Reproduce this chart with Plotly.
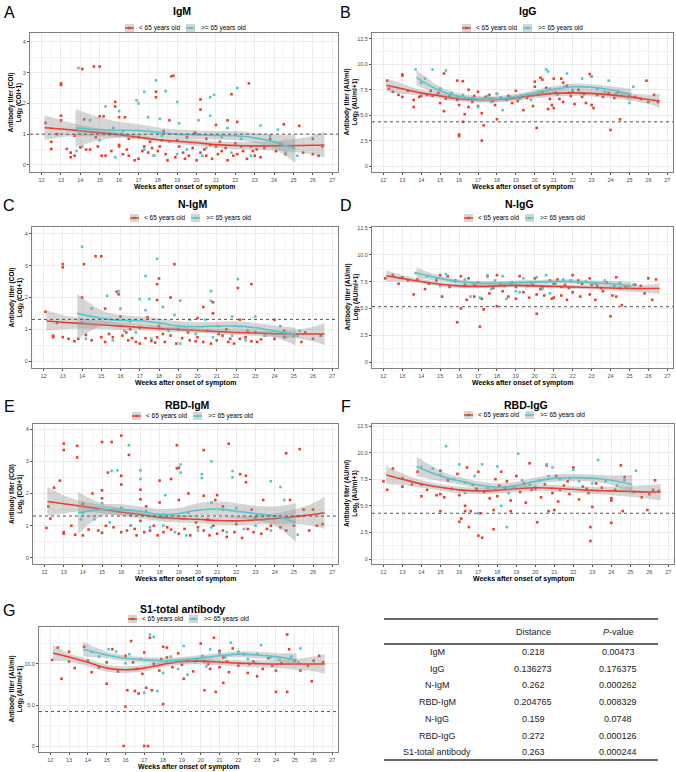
import plotly.graph_objects as go

W, H = 676, 772
FONT = "Arial, 'Liberation Sans', sans-serif"
RED = "#E8402E"
CYAN = "#55C6CC"
BAND_FILL = "rgba(153,153,153,0.40)"
KEY_FILL = "#D6D6D6"

GROUPS = ["< 65 years old", ">= 65 years old"]
WEEKS = list(range(12, 28))
X_TITLE = "Weeks after onset of symptom"

RED_X = [12.15, 13, 14, 15, 16, 17, 18, 19, 20, 21, 22, 23, 24, 25, 26, 26.6]
CYAN_X = [13.75, 15, 16, 17, 18, 19, 20, 21, 22, 23, 24, 25.1]

# ---------------- IgM ----------------
IGM_LT65 = [(13.0, 2.65), (13.0, 2.6), (14.1, 3.12), (14.7, 3.2), (15.0, 3.2), (13.0, 1.6), (13.0, 1.45),
            (18.7, 2.88), (18.8, 2.9), (17.9, 2.38), (17.9, 2.2), (22.7, 2.65), (20.2, 2.13), (20.2, 1.8),
            (21.8, 2.3), (15.8, 2.05), (15.8, 1.9), (16.0, 1.55), (16.3, 1.55), (15.0, 1.58), (15.2, 1.58),
            (14.2, 1.48), (22.1, 1.4), (21.6, 1.45), (18.6, 1.45), (24.5, 1.32), (25.3, 1.27), (12.2, 1.37),
            (12.5, 0.75), (12.5, 0.52), (13.3, 0.52), (13.5, 0.4), (13.5, 0.25), (13.7, 0.3), (14.0, 0.57),
            (14.3, 0.5), (14.5, 0.5), (15.1, 0.3), (15.3, 0.3), (16.0, 0.65), (16.0, 0.6), (16.4, 0.5),
            (16.8, 0.15), (17.2, 0.45), (17.5, 0.4), (17.8, 0.3), (18.0, 0.45), (18.5, 0.15), (18.9, 0.25),
            (19.3, 0.4), (19.8, 0.55), (20.2, 0.4), (20.5, 0.3), (20.8, 0.2), (21.0, 0.6), (21.3, 0.45),
            (21.6, 0.15), (21.9, 0.3), (22.1, 0.35), (22.4, 0.45), (22.6, 0.2), (23.0, 0.3), (23.1, 0.5),
            (23.5, 0.55), (24.1, 0.45), (24.6, 0.35), (25.0, 0.6), (25.5, 0.4), (26.0, 0.35), (26.3, 0.3),
            (26.5, 0.6), (26.0, 0.85), (16.5, 0.85), (17.0, 0.9), (17.6, 0.75), (18.2, 0.8), (19.0, 0.8),
            (19.5, 0.9), (20.0, 1.0), (20.5, 0.85), (21.2, 0.75), (22.0, 0.7), (22.8, 0.6), (23.8, 0.85),
            (24.3, 0.7), (15.5, 1.0), (14.8, 0.9), (13.7, 0.95), (12.8, 1.0), (18.3, 1.1), (19.9, 1.05),
            (21.0, 1.3), (20.0, 0.15), (17.0, 0.2), (16.5, 0.3), (17.3, 0.6), (19.1, 0.6), (20.7, 0.65),
            (16.2, 0.35), (17.7, 0.55), (18.4, 0.35), (19.6, 0.3), (20.4, 0.5), (21.5, 0.55), (22.3, 0.6),
            (22.9, 0.45), (23.3, 0.25), (15.6, 0.45), (14.9, 0.6), (18.1, 0.6), (19.4, 0.2), (21.1, 0.35)]
IGM_GE65 = [(13.9, 3.15), (17.9, 2.75), (18.4, 2.4), (17.3, 2.38), (17.0, 2.0), (16.9, 2.1), (22.1, 2.5),
            (20.9, 2.28), (20.7, 2.2), (19.0, 2.05), (15.3, 1.9), (16.0, 1.75), (17.5, 1.55), (18.1, 1.5),
            (19.1, 1.35), (20.1, 1.45), (20.7, 1.6), (21.6, 1.2), (23.3, 1.28), (24.2, 1.15), (14.5, 1.45),
            (15.0, 0.8), (15.7, 1.2), (16.2, 1.1), (16.7, 0.9), (17.3, 0.5), (17.8, 0.3), (18.6, 0.75),
            (19.0, 0.35), (19.5, 0.5), (20.3, 0.3), (21.3, 0.9), (21.8, 0.4), (22.3, 0.85), (22.8, 0.3),
            (23.8, 0.95), (24.6, 0.4), (25.2, 0.3), (14.1, 0.6), (13.8, 0.45), (15.8, 0.25), (18.2, 0.95),
            (20.5, 0.55)]
IGM_FIT_LT65 = [1.21, 1.17, 1.11, 1.05, 0.98, 0.90, 0.82, 0.77, 0.72, 0.66, 0.63, 0.62, 0.62, 0.63, 0.64, 0.65]
IGM_HI_LT65 = [1.62, 1.45, 1.30, 1.17, 1.06, 0.97, 0.90, 0.86, 0.82, 0.77, 0.75, 0.75, 0.78, 0.84, 0.95, 1.08]
IGM_LO_LT65 = [0.81, 0.90, 0.93, 0.93, 0.90, 0.83, 0.75, 0.68, 0.62, 0.55, 0.51, 0.49, 0.46, 0.42, 0.34, 0.24]
IGM_FIT_GE65 = [1.20, 1.15, 1.13, 1.12, 1.06, 1.00, 0.98, 0.96, 0.95, 0.88, 0.75, 0.52]
IGM_HI_GE65 = [1.82, 1.55, 1.40, 1.32, 1.22, 1.15, 1.12, 1.10, 1.10, 1.05, 0.98, 0.97]
IGM_LO_GE65 = [0.58, 0.80, 0.88, 0.93, 0.90, 0.85, 0.84, 0.82, 0.80, 0.71, 0.52, 0.07]
IGM_CUTOFF = 1.0

# ---------------- IgG ----------------
IGG_LT65 = [(16.0, 3.1), (16.0, 2.95), (17.2, 2.5), (17.3, 4.0), (20.1, 3.75), (24.0, 3.55), (24.5, 4.6),
            (16.2, 4.35), (18.0, 4.6), (16.3, 5.1), (12.2, 8.4), (13.0, 9.0), (13.0, 8.9), (15.2, 9.1),
            (15.9, 8.4), (16.2, 8.35), (20.3, 8.7), (20.4, 8.5), (20.0, 8.3), (21.0, 8.6), (21.4, 8.6),
            (22.9, 9.05), (23.0, 8.8), (25.9, 8.4), (12.5, 7.3), (12.8, 7.0), (13.0, 6.8), (13.3, 7.4),
            (13.6, 6.5), (13.6, 5.8), (13.9, 6.8), (14.3, 7.0), (14.6, 6.9), (15.0, 6.2), (15.2, 5.4),
            (15.5, 6.9), (15.9, 6.5), (16.0, 6.0), (16.5, 5.8), (16.7, 6.3), (17.0, 5.9), (17.2, 5.2),
            (17.4, 6.8), (17.6, 7.0), (17.8, 6.4), (17.9, 6.0), (18.2, 6.7), (18.5, 6.5), (18.8, 6.2),
            (19.1, 6.4), (19.4, 5.5), (19.6, 6.7), (19.9, 5.9), (20.0, 7.8), (20.2, 7.0), (20.4, 7.3),
            (20.7, 5.6), (20.9, 6.0), (21.0, 5.7), (21.1, 7.2), (21.3, 6.6), (21.5, 6.3), (21.7, 7.9),
            (21.9, 6.9), (22.1, 6.1), (22.3, 7.5), (22.5, 6.8), (22.7, 6.2), (23.0, 6.0), (23.1, 5.7),
            (23.3, 7.0), (23.6, 6.8), (23.9, 7.2), (24.2, 6.7), (24.6, 6.9), (25.0, 7.0), (25.3, 6.8),
            (25.6, 6.6), (26.0, 6.3), (26.3, 7.0), (26.5, 6.3), (18.0, 7.1), (17.0, 7.3), (19.0, 7.4),
            (14.0, 6.9), (16.5, 7.5), (21.5, 8.2), (12.3, 7.6), (14.9, 7.2), (20.6, 7.7), (22.0, 7.3),
            (16.8, 6.9), (17.7, 6.6), (18.6, 6.9), (19.3, 6.9), (20.8, 6.6), (21.8, 7.2), (22.6, 7.1),
            (24.4, 7.3), (15.3, 6.6), (14.5, 7.4)]
IGG_GE65 = [(13.7, 9.5), (14.6, 9.5), (15.3, 9.4), (14.2, 8.6), (20.6, 9.5), (20.7, 9.3), (21.7, 9.1),
            (22.5, 8.6), (23.0, 8.8), (23.9, 8.4), (25.2, 7.8), (14.0, 8.2), (15.0, 7.6), (15.6, 7.2),
            (16.2, 7.0), (16.7, 6.7), (17.0, 5.8), (17.3, 6.6), (17.7, 6.3), (18.0, 7.1), (18.3, 5.5),
            (18.7, 6.8), (19.2, 6.6), (19.6, 7.0), (20.2, 7.3), (20.8, 7.6), (21.2, 7.0), (21.6, 7.8),
            (22.0, 7.5), (22.4, 7.2), (23.3, 7.6), (23.7, 7.3), (24.3, 7.1), (24.6, 6.9), (25.0, 6.2),
            (15.9, 6.8), (17.5, 6.9), (19.8, 6.5)]
IGG_FIT_LT65 = [7.95, 7.6, 7.2, 6.9, 6.6, 6.55, 6.55, 6.7, 6.95, 7.15, 7.2, 7.15, 7.0, 6.8, 6.55, 6.4]
IGG_HI_LT65 = [8.6, 8.1, 7.5, 7.15, 6.85, 6.8, 6.8, 6.95, 7.25, 7.45, 7.5, 7.45, 7.3, 7.15, 7.0, 7.1]
IGG_LO_LT65 = [7.3, 7.1, 6.9, 6.65, 6.35, 6.3, 6.3, 6.45, 6.65, 6.85, 6.9, 6.85, 6.7, 6.45, 6.1, 5.7]
IGG_FIT_GE65 = [8.7, 7.4, 6.85, 6.6, 6.6, 6.8, 7.2, 7.55, 7.8, 7.75, 7.5, 7.05]
IGG_HI_GE65 = [9.45, 7.8, 7.15, 6.9, 6.9, 7.1, 7.5, 7.85, 8.1, 8.05, 7.85, 7.6]
IGG_LO_GE65 = [7.95, 7.0, 6.55, 6.3, 6.3, 6.5, 6.9, 7.25, 7.5, 7.4, 7.15, 6.45]
IGG_CUTOFF = 4.35

# ---------------- N-IgM ----------------
NIGM_LT65 = [(13.0, 3.05), (13.0, 2.95), (14.1, 3.05), (14.7, 3.3), (15.0, 3.3), (18.8, 3.05), (17.9, 2.42),
             (18.0, 2.6), (22.1, 2.3), (22.8, 2.42), (15.8, 2.18), (15.9, 2.1), (14.0, 2.0), (18.6, 2.0),
             (17.9, 1.92), (20.3, 1.7), (20.8, 1.85), (15.2, 1.65), (12.1, 1.55), (16.0, 1.4), (17.4, 1.38),
             (20.0, 1.35), (20.8, 1.5), (22.2, 1.3), (24.0, 1.3), (25.6, 0.9), (12.5, 0.75), (12.5, 0.8),
             (13.0, 0.75), (13.3, 0.7), (13.6, 0.62), (13.8, 0.7), (14.2, 0.82), (14.5, 0.65), (15.0, 0.75),
             (15.2, 0.6), (15.6, 0.75), (16.1, 0.8), (16.4, 0.65), (16.8, 0.6), (17.0, 0.55), (17.3, 0.72),
             (17.6, 0.63), (17.9, 0.75), (18.3, 0.6), (18.6, 0.8), (18.9, 0.55), (19.2, 0.72), (19.6, 0.65),
             (20.0, 0.75), (20.3, 0.6), (20.7, 0.55), (21.0, 0.65), (21.3, 0.8), (21.6, 0.6), (21.9, 0.55),
             (22.2, 0.7), (22.5, 0.75), (22.8, 0.62), (23.1, 0.6), (23.5, 0.8), (24.0, 0.7), (24.5, 0.75),
             (25.0, 0.8), (25.4, 0.6), (26.0, 0.7), (26.4, 0.8), (16.5, 1.0), (17.0, 1.05), (18.0, 1.1),
             (19.0, 1.0), (20.5, 0.95), (21.5, 1.0), (23.0, 0.9), (14.0, 1.2), (12.7, 1.2), (19.5, 0.9),
             (24.5, 0.95), (16.3, 0.9), (18.2, 0.85), (21.1, 0.85), (22.6, 0.95), (16.6, 0.72),
             (17.8, 0.58), (19.9, 0.62), (21.7, 0.7), (23.3, 0.68), (15.4, 0.85)]
NIGM_GE65 = [(14.0, 3.6), (17.9, 3.22), (17.3, 2.68), (22.1, 2.58), (20.7, 2.2), (15.9, 2.2), (17.0, 1.95),
             (17.5, 1.95), (18.2, 1.7), (19.1, 1.9), (20.7, 1.9), (21.8, 1.4), (16.0, 1.65), (14.5, 1.65),
             (15.3, 2.05), (17.3, 1.6), (15.8, 1.3), (16.5, 1.25), (18.8, 1.45), (19.6, 1.3), (20.4, 1.3),
             (21.1, 1.1), (23.0, 1.4), (24.3, 1.1), (25.3, 0.95), (25.2, 0.8), (14.2, 0.7), (15.6, 0.65),
             (16.8, 0.9), (17.6, 0.7), (18.5, 0.95), (19.1, 0.55), (19.9, 0.85), (20.8, 0.75), (21.8, 0.8),
             (22.5, 0.65), (23.5, 0.8), (24.6, 0.75), (16.2, 0.95)]
NIGM_FIT_LT65 = [1.26, 1.22, 1.18, 1.14, 1.10, 1.06, 1.02, 0.99, 0.96, 0.93, 0.90, 0.88, 0.86, 0.85, 0.85, 0.85]
NIGM_HI_LT65 = [1.60, 1.45, 1.35, 1.28, 1.20, 1.15, 1.10, 1.06, 1.03, 1.00, 0.98, 0.96, 0.95, 0.97, 1.08, 1.20]
NIGM_LO_LT65 = [0.95, 1.00, 1.02, 1.00, 0.98, 0.96, 0.94, 0.91, 0.88, 0.85, 0.82, 0.79, 0.76, 0.72, 0.62, 0.50]
NIGM_FIT_GE65 = [1.50, 1.35, 1.28, 1.27, 1.20, 1.10, 1.08, 1.10, 1.10, 1.05, 0.95, 0.83]
NIGM_HI_GE65 = [2.12, 1.60, 1.45, 1.40, 1.35, 1.25, 1.22, 1.24, 1.25, 1.20, 1.12, 1.05]
NIGM_LO_GE65 = [0.68, 1.10, 1.12, 1.12, 1.05, 0.95, 0.94, 0.96, 0.95, 0.88, 0.75, 0.50]
NIGM_CUTOFF = 1.31

# ---------------- N-IgG ----------------
NIGG_LT65 = [(15.9, 3.7), (17.1, 3.3), (20.1, 4.5), (24.0, 4.25), (16.1, 5.0), (17.3, 4.9), (18.0, 5.2),
             (24.6, 5.3), (13.6, 6.3), (14.2, 6.8), (15.1, 6.1), (16.4, 5.8), (16.8, 6.1), (17.2, 5.9),
             (17.6, 6.4), (18.3, 6.6), (18.6, 6.1), (19.0, 5.9), (19.4, 6.5), (19.7, 6.0), (20.1, 6.3),
             (20.5, 6.2), (20.9, 5.9), (21.0, 6.0), (21.4, 6.2), (21.7, 5.8), (22.0, 6.5), (22.4, 6.1),
             (22.9, 6.3), (23.2, 5.8), (23.6, 6.6), (24.1, 6.2), (24.3, 6.1), (25.8, 6.4), (26.2, 5.8),
             (12.1, 7.8), (12.5, 8.1), (13.0, 7.9), (13.3, 7.6), (13.8, 7.7), (14.4, 7.3), (14.8, 7.6),
             (15.0, 8.1), (15.4, 8.0), (15.8, 7.6), (16.1, 8.0), (16.5, 7.8), (17.0, 7.4), (17.5, 8.0),
             (18.0, 8.1), (18.4, 7.1), (18.8, 7.4), (19.2, 8.0), (19.6, 7.1), (20.0, 7.8), (20.4, 7.0),
             (20.8, 7.6), (21.2, 7.7), (21.6, 7.2), (22.0, 8.1), (22.5, 7.3), (22.9, 7.8), (23.3, 7.1),
             (23.8, 7.4), (24.3, 7.9), (24.8, 7.0), (25.3, 7.2), (25.6, 7.1), (26.0, 7.8), (26.4, 7.7),
             (15.5, 7.0), (17.8, 6.9), (20.3, 6.8), (21.8, 6.9), (23.5, 6.9), (12.8, 7.3), (16.8, 7.2),
             (19.0, 7.0), (21.0, 7.3), (22.3, 7.6), (16.3, 7.2), (18.2, 7.3), (19.9, 7.2), (21.4, 7.0),
             (23.0, 7.2), (24.5, 6.9)]
NIGG_GE65 = [(13.7, 8.3), (14.3, 8.0), (14.8, 7.8), (15.3, 8.2), (15.8, 7.5), (16.3, 7.7), (16.9, 7.1),
             (17.1, 6.0), (17.5, 8.1), (17.9, 7.6), (18.3, 8.0), (18.7, 7.2), (19.0, 6.6), (19.4, 7.8),
             (19.8, 7.4), (20.1, 7.9), (20.6, 8.1), (20.8, 6.4), (21.1, 7.3), (21.5, 7.7), (21.9, 7.6),
             (22.3, 7.4), (22.7, 7.5), (23.2, 7.3), (23.7, 7.6), (24.2, 7.1), (24.5, 7.4), (25.2, 7.2),
             (16.6, 6.1), (17.7, 6.8), (18.5, 5.9), (19.2, 6.5), (20.4, 6.8), (22.0, 7.0), (15.0, 7.1),
             (24.9, 6.9)]
NIGG_FIT_LT65 = [8.05, 7.8, 7.5, 7.25, 7.1, 7.05, 7.1, 7.15, 7.1, 7.05, 7.0, 6.95, 6.9, 6.85, 6.85, 6.85]
NIGG_HI_LT65 = [8.55, 8.1, 7.75, 7.45, 7.3, 7.25, 7.28, 7.32, 7.28, 7.23, 7.2, 7.15, 7.12, 7.1, 7.2, 7.3]
NIGG_LO_LT65 = [7.5, 7.5, 7.3, 7.05, 6.9, 6.9, 6.92, 6.98, 6.92, 6.88, 6.82, 6.75, 6.68, 6.55, 6.45, 6.35]
NIGG_FIT_GE65 = [8.3, 7.8, 7.5, 7.35, 7.35, 7.4, 7.45, 7.5, 7.5, 7.4, 7.3, 7.1]
NIGG_HI_GE65 = [8.8, 8.05, 7.7, 7.55, 7.55, 7.6, 7.65, 7.7, 7.72, 7.62, 7.55, 7.45]
NIGG_LO_GE65 = [7.8, 7.55, 7.3, 7.15, 7.15, 7.2, 7.25, 7.3, 7.3, 7.18, 7.05, 6.75]
NIGG_CUTOFF = 5.16

# ---------------- RBD-IgM ----------------
RBDM_LT65 = [(13.0, 3.55), (13.0, 3.35), (13.7, 3.48), (13.7, 3.12), (15.0, 3.6), (15.5, 3.6), (16.0, 3.8),
             (16.4, 3.2), (18.9, 3.5), (21.6, 3.55), (20.3, 3.35), (24.6, 3.25), (25.3, 3.38), (12.5, 2.18),
             (12.8, 2.4), (15.3, 2.65), (16.0, 2.55), (16.0, 2.28), (18.9, 2.78), (18.0, 2.4), (18.6, 2.45),
             (19.0, 2.8), (22.2, 2.6), (22.5, 2.55), (22.5, 2.35), (17.0, 2.12), (17.0, 1.82), (15.0, 2.1),
             (15.0, 1.85), (14.5, 2.0), (14.0, 1.68), (12.2, 1.6), (12.3, 1.22), (12.1, 0.93), (13.0, 0.8),
             (13.0, 0.75), (13.4, 1.0), (13.6, 0.72), (14.0, 0.7), (14.3, 0.88), (14.8, 0.85), (15.0, 0.78),
             (15.2, 1.0), (15.6, 0.95), (16.0, 0.8), (16.3, 0.85), (16.5, 1.0), (16.8, 0.7), (17.2, 0.8),
             (17.5, 0.85), (17.9, 0.7), (18.2, 0.8), (18.6, 0.88), (19.0, 0.75), (19.3, 0.9), (19.6, 0.7),
             (20.0, 0.95), (20.3, 0.85), (20.6, 0.7), (21.0, 0.75), (21.3, 0.85), (21.5, 0.65), (21.9, 0.8),
             (22.3, 0.62), (22.6, 0.9), (22.9, 0.8), (23.3, 0.75), (23.8, 1.0), (24.3, 0.95), (24.6, 0.85),
             (25.0, 1.0), (25.8, 0.85), (26.2, 1.0), (26.5, 1.05), (19.5, 2.0), (20.3, 1.93), (21.0, 1.95),
             (20.9, 1.8), (19.0, 1.8), (23.4, 1.8), (24.8, 1.8), (22.8, 1.5), (21.3, 1.6), (17.3, 1.6),
             (18.0, 1.72), (16.5, 1.35), (20.5, 1.2), (23.0, 1.25), (25.5, 1.5), (26.0, 1.5), (17.0, 1.15),
             (19.9, 1.1), (16.7, 0.9), (17.7, 1.0), (18.4, 0.95), (20.8, 1.0), (22.0, 1.05), (23.6, 0.9)]
RBDM_GE65 = [(16.4, 3.5), (20.7, 3.0), (19.1, 2.9), (17.0, 2.72), (21.8, 2.7), (21.8, 2.5), (15.8, 2.72),
             (15.5, 2.7), (20.2, 2.6), (20.2, 2.48), (19.1, 2.65), (23.8, 2.38), (24.3, 2.2), (17.0, 2.45),
             (18.3, 1.95), (15.0, 1.7), (16.0, 1.55), (17.3, 1.45), (18.2, 1.35), (19.5, 1.4), (20.7, 1.72),
             (21.3, 1.5), (22.0, 1.55), (23.1, 1.35), (24.5, 1.8), (25.2, 1.3), (14.0, 1.4), (14.6, 1.2),
             (15.4, 1.1), (16.5, 1.0), (17.5, 0.95), (18.2, 1.0), (18.8, 0.8), (19.4, 0.7), (20.0, 0.85),
             (20.7, 0.95), (21.5, 0.8), (22.4, 0.9), (23.0, 1.0), (23.8, 0.85), (25.2, 0.72), (13.9, 1.2)]
RBDM_FIT_LT65 = [1.75, 1.68, 1.60, 1.51, 1.42, 1.35, 1.26, 1.22, 1.20, 1.16, 1.15, 1.18, 1.22, 1.28, 1.35, 1.40]
RBDM_HI_LT65 = [2.20, 1.95, 1.75, 1.65, 1.55, 1.45, 1.35, 1.33, 1.30, 1.27, 1.28, 1.32, 1.38, 1.50, 1.70, 1.90]
RBDM_LO_LT65 = [1.30, 1.38, 1.45, 1.38, 1.30, 1.22, 1.13, 1.10, 1.08, 1.03, 1.02, 1.03, 1.05, 1.05, 1.00, 0.90]
RBDM_FIT_GE65 = [1.40, 1.50, 1.50, 1.45, 1.35, 1.38, 1.48, 1.52, 1.45, 1.38, 1.30, 1.10]
RBDM_HI_GE65 = [2.05, 1.70, 1.67, 1.60, 1.52, 1.55, 1.70, 1.75, 1.70, 1.62, 1.60, 1.70]
RBDM_LO_GE65 = [0.75, 1.30, 1.33, 1.30, 1.20, 1.22, 1.30, 1.30, 1.22, 1.15, 1.00, 0.50]
RBDM_CUTOFF = 1.3

# ---------------- RBD-IgG ----------------
RBDG_LT65 = [(17.0, 2.2), (17.2, 2.0), (22.9, 1.7), (22.9, 3.0), (17.8, 2.8), (16.0, 3.5), (16.5, 3.0),
             (20.1, 3.45), (24.0, 3.4), (16.1, 3.8), (16.3, 4.5), (16.3, 5.0), (15.0, 4.5), (16.6, 4.5),
             (17.1, 4.3), (17.8, 4.6), (18.7, 4.5), (20.7, 4.5), (21.0, 4.6), (23.0, 4.9), (24.0, 5.5),
             (24.6, 4.5), (25.9, 4.6), (12.0, 7.3), (12.2, 6.5), (12.5, 8.5), (13.0, 7.6), (13.0, 6.8),
             (13.5, 7.0), (13.8, 8.2), (14.0, 7.0), (14.0, 5.9), (14.3, 6.5), (14.8, 6.0), (15.0, 8.3),
             (15.0, 6.1), (15.2, 5.8), (15.6, 6.6), (15.9, 8.0), (16.0, 6.0), (16.4, 8.6), (16.7, 7.0),
             (17.0, 8.2), (17.3, 6.3), (17.6, 5.7), (17.9, 7.5), (18.0, 5.9), (18.2, 8.2), (18.4, 6.7),
             (18.7, 5.5), (19.0, 7.8), (19.2, 6.3), (19.5, 5.3), (19.7, 9.0), (20.0, 6.6), (20.3, 5.8),
             (20.5, 7.0), (20.6, 8.8), (20.9, 6.2), (21.1, 7.8), (21.2, 5.4), (21.5, 6.9), (21.8, 6.1),
             (22.0, 8.6), (22.3, 5.6), (22.5, 6.8), (22.8, 6.2), (23.2, 7.1), (23.5, 6.7), (24.0, 5.7),
             (24.2, 6.5), (24.5, 8.8), (24.7, 7.7), (25.2, 6.3), (25.6, 5.8), (26.0, 6.1), (26.2, 6.5),
             (26.5, 6.4), (26.3, 7.4), (19.4, 7.1), (21.7, 7.3), (18.5, 7.3), (16.9, 6.6), (19.8, 6.5),
             (21.3, 6.5), (22.7, 6.6), (15.4, 7.4), (18.1, 6.9)]
RBDG_GE65 = [(15.3, 10.6), (19.1, 9.9), (23.3, 9.3), (16.0, 8.9), (17.2, 8.9), (18.0, 8.7), (20.6, 8.9),
             (20.9, 8.6), (22.0, 8.4), (25.3, 8.3), (14.0, 8.6), (14.6, 8.5), (15.0, 7.9), (15.7, 7.5),
             (16.3, 7.2), (16.8, 7.8), (17.5, 6.7), (17.9, 6.5), (18.2, 5.0), (18.5, 3.0), (18.9, 6.8),
             (19.3, 7.4), (19.7, 7.0), (20.2, 7.4), (20.7, 7.8), (21.3, 7.5), (21.8, 7.6), (22.3, 7.3),
             (23.0, 7.1), (23.7, 7.3), (24.3, 6.9), (24.7, 7.4), (25.0, 6.4), (16.3, 6.2), (17.0, 4.3),
             (18.6, 6.2), (20.0, 6.8)]
RBDG_FIT_LT65 = [7.9, 7.5, 7.05, 6.75, 6.5, 6.4, 6.45, 6.6, 6.7, 6.65, 6.55, 6.45, 6.4, 6.35, 6.3, 6.3]
RBDG_HI_LT65 = [8.75, 8.05, 7.4, 7.05, 6.8, 6.7, 6.75, 6.9, 7.0, 6.95, 6.85, 6.8, 6.8, 6.85, 6.95, 7.05]
RBDG_LO_LT65 = [7.05, 6.95, 6.7, 6.45, 6.2, 6.1, 6.15, 6.3, 6.4, 6.35, 6.25, 6.1, 6.0, 5.85, 5.65, 5.5]
RBDG_FIT_GE65 = [8.7, 7.8, 7.35, 6.95, 6.75, 6.9, 7.3, 7.6, 7.65, 7.6, 7.4, 7.0]
RBDG_HI_GE65 = [9.6, 8.3, 7.7, 7.3, 7.1, 7.25, 7.65, 7.95, 8.0, 7.95, 7.85, 7.9]
RBDG_LO_GE65 = [7.8, 7.3, 7.0, 6.6, 6.4, 6.55, 6.95, 7.25, 7.3, 7.25, 6.95, 6.1]
RBDG_CUTOFF = 4.3

# ---------------- S1-total antibody ----------------
S1_LT65 = [(15.9, 0.0), (17.0, 0.0), (17.2, 0.0), (16.0, 4.8), (18.0, 5.1), (12.6, 8.2), (15.0, 7.6),
           (16.1, 6.8), (16.5, 6.7), (16.7, 6.4), (17.1, 7.1), (17.4, 6.8), (20.2, 6.8), (20.8, 6.6),
           (21.2, 7.7), (24.0, 6.6), (24.6, 6.6), (25.9, 7.9), (12.1, 10.5), (12.4, 12.0), (13.0, 11.5),
           (13.0, 10.3), (13.3, 9.5), (13.8, 12.1), (14.2, 9.0), (14.6, 9.6), (15.0, 10.2), (15.3, 11.8),
           (15.6, 9.1), (16.0, 11.0), (16.3, 12.8), (16.6, 9.4), (16.9, 8.8), (17.0, 11.4), (17.3, 13.2),
           (17.5, 10.0), (17.8, 9.2), (18.0, 12.1), (18.2, 10.8), (18.5, 9.6), (18.8, 11.3), (19.1, 8.2),
           (19.3, 10.4), (19.6, 9.1), (20.0, 12.5), (20.2, 10.3), (20.5, 9.4), (20.7, 13.2), (21.0, 9.6),
           (21.2, 10.8), (21.5, 9.0), (21.7, 11.9), (22.0, 9.8), (22.3, 11.2), (22.5, 8.9), (22.8, 10.3),
           (23.0, 8.5), (23.3, 9.4), (23.6, 10.7), (24.0, 9.2), (24.3, 10.1), (24.6, 13.6), (24.7, 11.8),
           (25.0, 10.4), (25.3, 9.2), (25.7, 9.8), (26.0, 10.4), (26.3, 11.0), (26.5, 10.2), (18.2, 12.0),
           (19.8, 10.5), (21.4, 10.3), (14.0, 10.4), (16.4, 10.2), (17.9, 10.6), (19.0, 9.9), (20.4, 10.0),
           (22.6, 10.0), (23.8, 9.8), (21.0, 11.6)]
S1_GE65 = [(17.3, 13.6), (17.5, 13.3), (19.1, 12.2), (21.6, 12.6), (23.2, 12.3), (25.3, 11.9), (14.2, 11.5),
           (15.1, 11.8), (15.5, 11.5), (16.2, 11.2), (16.8, 10.6), (17.0, 6.5), (17.7, 6.7), (18.0, 8.9),
           (18.4, 10.9), (18.8, 9.4), (19.3, 8.7), (19.7, 10.3), (20.1, 11.0), (20.5, 11.8), (21.0, 11.3),
           (21.3, 10.8), (22.0, 11.5), (22.5, 10.6), (23.0, 11.2), (23.7, 10.8), (24.2, 10.5), (24.8, 10.9),
           (25.2, 10.2), (14.6, 10.9), (16.0, 10.1), (18.2, 10.3), (20.3, 9.7), (22.9, 10.1)]
S1_FIT_LT65 = [11.35, 10.85, 10.2, 9.5, 9.3, 9.5, 9.95, 10.3, 10.35, 10.25, 10.1, 10.05, 10.0, 10.0, 10.0, 10.0]
S1_HI_LT65 = [12.3, 11.3, 10.6, 9.9, 9.7, 9.9, 10.3, 10.65, 10.7, 10.6, 10.45, 10.45, 10.5, 10.6, 10.9, 11.2]
S1_LO_LT65 = [10.4, 10.3, 9.7, 9.05, 8.9, 9.1, 9.6, 9.9, 9.95, 9.85, 9.7, 9.6, 9.5, 9.3, 9.1, 8.8]
S1_FIT_GE65 = [11.8, 11.1, 10.7, 10.5, 10.4, 10.5, 10.75, 11.0, 11.2, 11.1, 10.9, 10.5]
S1_HI_GE65 = [12.7, 11.5, 11.05, 10.85, 10.75, 10.85, 11.1, 11.35, 11.55, 11.5, 11.35, 11.3]
S1_LO_GE65 = [10.9, 10.7, 10.35, 10.15, 10.05, 10.15, 10.4, 10.65, 10.85, 10.7, 10.45, 9.8]
S1_CUTOFF = 4.2

# ---------------- summary table ----------------
TABLE_ROWS = ["IgM", "IgG", "N-IgM", "RBD-IgM", "N-IgG", "RBD-IgG", "S1-total antibody"]
TABLE_DISTANCE = ["0.218", "0.136273", "0.262", "0.204765", "0.159", "0.272", "0.263"]
TABLE_PVALUE = ["0.00473", "0.176375", "0.000262", "0.008329", "0.0748", "0.000126", "0.000244"]

# axis tick sets
COI_TICKS = [0, 1, 2, 3, 4]
COI_LABELS = ["0", "1", "2", "3", "4"]
AU_TICKS = [0, 2.5, 5, 7.5, 10, 12.5]
AU_LABELS = ["0", "2.5", "5.0", "7.5", "10.0", "12.5"]
S1_TICKS = [0, 5, 10]
S1_LABELS = ["0", "5.0", "10.0"]

COI_TITLE = "<b>Antibody titer (COI)<br>Log<sub>2</sub> (COI+1)</b>"
AU_TITLE = "<b>Antibody titer (AU/ml)<br>Log<sub>2</sub> (AU/ml+1)</b>"

# layout of each panel, in page pixels
PANELS = [
    dict(letter="A", title="IgM", pts=(IGM_LT65, IGM_GE65),
         fits=(IGM_FIT_LT65, IGM_HI_LT65, IGM_LO_LT65, IGM_FIT_GE65, IGM_HI_GE65, IGM_LO_GE65),
         cutoff=IGM_CUTOFF, frame=(30, 338, 33, 172), yrange=(-0.23, 4.29), ticks=(COI_TICKS, COI_LABELS),
         minor=0.5, ytitle=COI_TITLE, title_xy=(182, 11), legend_xy=(125, 28), letter_x=9, ytitle_x=15),
    dict(letter="B", title="IgG", pts=(IGG_LT65, IGG_GE65),
         fits=(IGG_FIT_LT65, IGG_HI_LT65, IGG_LO_LT65, IGG_FIT_GE65, IGG_HI_GE65, IGG_LO_GE65),
         cutoff=IGG_CUTOFF, frame=(372, 673, 33, 172), yrange=(-0.59, 13.09), ticks=(AU_TICKS, AU_LABELS),
         minor=1.25, ytitle=AU_TITLE, title_xy=(528, 11), legend_xy=(462, 28), letter_x=346, ytitle_x=351),
    dict(letter="C", title="N-IgM", pts=(NIGM_LT65, NIGM_GE65),
         fits=(NIGM_FIT_LT65, NIGM_HI_LT65, NIGM_LO_LT65, NIGM_FIT_GE65, NIGM_HI_GE65, NIGM_LO_GE65),
         cutoff=NIGM_CUTOFF, frame=(32, 338, 227, 368), yrange=(-0.22, 4.22), ticks=(COI_TICKS, COI_LABELS),
         minor=0.5, ytitle=COI_TITLE, title_xy=(192, 204), legend_xy=(130, 218), letter_x=9, ytitle_x=16),
    dict(letter="D", title="N-IgG", pts=(NIGG_LT65, NIGG_GE65),
         fits=(NIGG_FIT_LT65, NIGG_HI_LT65, NIGG_LO_LT65, NIGG_FIT_GE65, NIGG_HI_GE65, NIGG_LO_GE65),
         cutoff=NIGG_CUTOFF, frame=(372, 673, 227, 368), yrange=(-0.56, 12.59), ticks=(AU_TICKS, AU_LABELS),
         minor=1.25, ytitle=AU_TITLE, title_xy=(519, 204), legend_xy=(464, 218), letter_x=346, ytitle_x=352),
    dict(letter="E", title="RBD-IgM", pts=(RBDM_LT65, RBDM_GE65),
         fits=(RBDM_FIT_LT65, RBDM_HI_LT65, RBDM_LO_LT65, RBDM_FIT_GE65, RBDM_HI_GE65, RBDM_LO_GE65),
         cutoff=RBDM_CUTOFF, frame=(33, 338, 424, 564), yrange=(-0.19, 4.16), ticks=(COI_TICKS, COI_LABELS),
         minor=0.5, ytitle=COI_TITLE, title_xy=(187, 405), legend_xy=(132, 416), letter_x=9, ytitle_x=16),
    dict(letter="F", title="RBD-IgG", pts=(RBDG_LT65, RBDG_GE65),
         fits=(RBDG_FIT_LT65, RBDG_HI_LT65, RBDG_LO_LT65, RBDG_FIT_GE65, RBDG_HI_GE65, RBDG_LO_GE65),
         cutoff=RBDG_CUTOFF, frame=(372, 674, 424, 564), yrange=(-0.47, 12.69), ticks=(AU_TICKS, AU_LABELS),
         minor=1.25, ytitle=AU_TITLE, title_xy=(526, 405), legend_xy=(464, 415), letter_x=346, ytitle_x=351),
    dict(letter="G", title="S1-total antibody", pts=(S1_LT65, S1_GE65),
         fits=(S1_FIT_LT65, S1_HI_LT65, S1_LO_LT65, S1_FIT_GE65, S1_HI_GE65, S1_LO_GE65),
         cutoff=S1_CUTOFF, frame=(39, 338, 627, 752), yrange=(-0.73, 14.51), ticks=(S1_TICKS, S1_LABELS),
         minor=2.5, ytitle=AU_TITLE, title_xy=(182, 609), legend_xy=(128, 619), letter_x=9, ytitle_x=16),
]


def fx(px):
    return px / W


def fy(py):
    return 1 - py / H


def add_smooth(fig, xs, fit, hi, lo, color, xa, ya):
    """Confidence ribbon plus the loess line for one group."""
    common = dict(xaxis=xa, yaxis=ya, showlegend=False, hoverinfo="skip")
    fig.add_trace(go.Scatter(x=xs, y=lo, mode="lines", line=dict(width=0, shape="spline"), **common))
    fig.add_trace(go.Scatter(x=xs, y=hi, mode="lines", line=dict(width=0, shape="spline"),
                             fill="tonexty", fillcolor=BAND_FILL, **common))
    fig.add_trace(go.Scatter(x=xs, y=fit, mode="lines", line=dict(color=color, width=1.6, shape="spline"),
                             **common))


fig = go.Figure()
shapes, annotations = [], []
axis_font = dict(family=FONT, size=5.5, color="#4D4D4D")
layout_axes = {}

for i, p in enumerate(PANELS, start=1):
    suffix = "" if i == 1 else str(i)
    xa, ya = "x" + suffix, "y" + suffix
    x0, x1, y0, y1 = p["frame"]

    for pts, color in zip(p["pts"], (RED, CYAN)):
        fig.add_trace(go.Scatter(
            x=[a for a, _ in pts], y=[b for _, b in pts], mode="markers",
            marker=dict(size=2.6, color=color, symbol="square", line=dict(width=0)),
            xaxis=xa, yaxis=ya, showlegend=False, hoverinfo="skip"))

    f = p["fits"]
    add_smooth(fig, RED_X, f[0], f[1], f[2], RED, xa, ya)
    add_smooth(fig, CYAN_X, f[3], f[4], f[5], CYAN, xa, ya)

    grid = dict(showgrid=True, gridcolor="#EBEBEB", gridwidth=0.8, zeroline=False, automargin=False,
                showline=True, mirror=True, linecolor="#808080", linewidth=1,
                ticks="outside", ticklen=2, tickwidth=0.8, tickcolor="#555555", tickfont=axis_font)
    layout_axes["xaxis" + suffix] = dict(
        domain=[fx(x0), fx(x1)], anchor=ya, range=[11.4, 27.3],
        tickmode="array", tickvals=WEEKS, ticktext=[str(w) for w in WEEKS],
        minor=dict(tickmode="linear", tick0=11.5, dtick=1, showgrid=True, gridcolor="#F4F4F4",
                   gridwidth=0.6, ticklen=0),
        **grid)
    layout_axes["yaxis" + suffix] = dict(
        domain=[fy(y1), fy(y0)], anchor=xa, range=list(p["yrange"]),
        tickmode="array", tickvals=p["ticks"][0], ticktext=p["ticks"][1],
        minor=dict(tickmode="linear", tick0=p["minor"], dtick=p["minor"] * 2, showgrid=True,
                   gridcolor="#F4F4F4", gridwidth=0.6, ticklen=0),
        **grid)

    # cut-off line
    shapes.append(dict(type="line", xref=xa + " domain", x0=0, x1=1, yref=ya, y0=p["cutoff"], y1=p["cutoff"],
                       line=dict(color="#555555", width=1, dash="dot"), layer="above"))

    # panel letter, title, axis titles
    annotations.append(dict(x=fx(p["letter_x"]), y=fy(p["title_xy"][1] + 1), xref="paper", yref="paper",
                            text=p["letter"], showarrow=False, xanchor="center", yanchor="middle",
                            font=dict(family=FONT, size=16, color="black")))
    annotations.append(dict(x=fx(p["title_xy"][0]), y=fy(p["title_xy"][1]), xref="paper", yref="paper",
                            text="<b>%s</b>" % p["title"], showarrow=False, xanchor="center",
                            yanchor="middle", font=dict(family=FONT, size=10.5, color="black")))
    annotations.append(dict(x=fx((x0 + x1) / 2), y=fy(y1 + 15), xref="paper", yref="paper",
                            text="<b>%s</b>" % X_TITLE, showarrow=False, xanchor="center",
                            yanchor="middle", font=dict(family=FONT, size=7, color="black")))
    annotations.append(dict(x=fx(p["ytitle_x"]), y=fy((y0 + y1) / 2), xref="paper", yref="paper",
                            text=p["ytitle"], showarrow=False, textangle=-90, xanchor="center",
                            yanchor="middle", font=dict(family=FONT, size=6.5, color="black")))

    # legend (drawn by hand to get the grey ribbon keys)
    lx, ly = p["legend_xy"]
    for k, (label, color) in enumerate(zip(GROUPS, (RED, CYAN))):
        kx = lx + 61 * k
        shapes.append(dict(type="rect", xref="paper", yref="paper", x0=fx(kx), x1=fx(kx + 9),
                           y0=fy(ly + 4), y1=fy(ly - 4), fillcolor=KEY_FILL, line=dict(width=0)))
        shapes.append(dict(type="line", xref="paper", yref="paper", x0=fx(kx), x1=fx(kx + 9),
                           y0=fy(ly), y1=fy(ly), line=dict(color=color, width=1.5)))
        shapes.append(dict(type="rect", xref="paper", yref="paper", x0=fx(kx + 3.3), x1=fx(kx + 5.7),
                           y0=fy(ly + 1.2), y1=fy(ly - 1.2), fillcolor=color, line=dict(width=0)))
        annotations.append(dict(x=fx(kx + 12 + (1 if k else 0)), y=fy(ly), xref="paper", yref="paper",
                                text=label, showarrow=False, xanchor="left", yanchor="middle",
                                font=dict(family=FONT, size=6.5, color="black")))

# ---------------- table ----------------
TL, TR = 384, 658
COL_X = [437, 533, 618]
for yline in (619, 644, 760):
    shapes.append(dict(type="line", xref="paper", yref="paper", x0=fx(TL), x1=fx(TR), y0=fy(yline),
                       y1=fy(yline), line=dict(color="#333333", width=1.6)))
tfont = dict(family=FONT, size=9, color="#222222")
annotations.append(dict(x=fx(COL_X[1]), y=fy(632), xref="paper", yref="paper", text="Distance",
                        showarrow=False, xanchor="center", yanchor="middle", font=tfont))
annotations.append(dict(x=fx(COL_X[2]), y=fy(632), xref="paper", yref="paper", text="<i>P</i>-value",
                        showarrow=False, xanchor="center", yanchor="middle", font=tfont))
for r, (name, dist, pv) in enumerate(zip(TABLE_ROWS, TABLE_DISTANCE, TABLE_PVALUE)):
    ry = 652 + r * 16.7
    for cx, txt in zip(COL_X, (name, dist, pv)):
        annotations.append(dict(x=fx(cx), y=fy(ry), xref="paper", yref="paper", text=txt, showarrow=False,
                                xanchor="center", yanchor="middle", font=tfont))

fig.update_layout(
    width=W, height=H,
    margin=dict(l=0, r=0, t=0, b=0),
    paper_bgcolor="white", plot_bgcolor="white",
    font=dict(family=FONT),
    showlegend=False,
    shapes=shapes,
    annotations=annotations,
    **layout_axes,
)

# the page's default body margin would shift the figure by 8px; remove it
fig.write_html("out.html", config={"displayModeBar": False},
               post_script="document.body.style.margin='0';document.body.style.overflow='hidden';")
